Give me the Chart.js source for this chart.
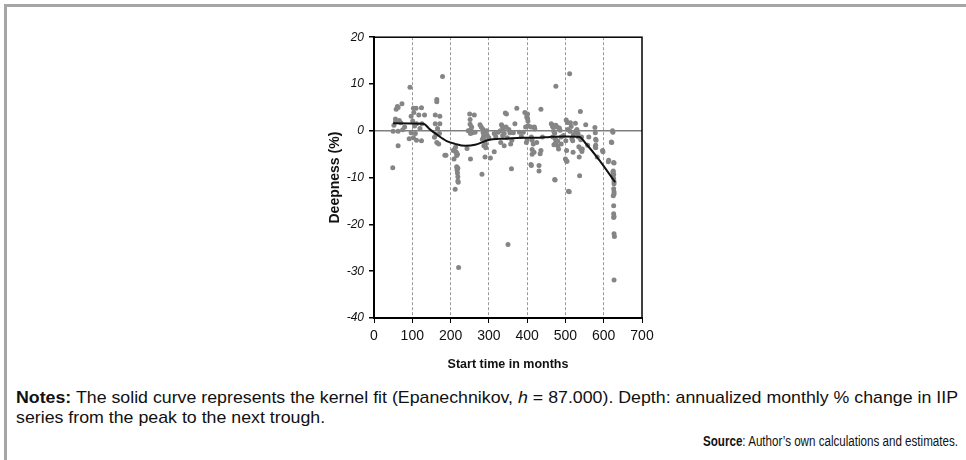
<!DOCTYPE html>
<html>
<head>
<meta charset="utf-8">
<script src="https://cdn.jsdelivr.net/npm/chart.js@4.4.0/dist/chart.umd.min.js"></script>
<style>
  body { margin: 0; background: #fff; width: 966px; height: 460px; overflow: hidden; position: relative;
         font-family: "Liberation Sans", Arial, sans-serif; color: #111; }
  #frame { position: absolute; left: 4px; top: 4px; right: 0; bottom: 0;
           border-top: 3px solid #a6a6a6; border-left: 3px solid #a6a6a6; }
  #wrap { position: absolute; left: 320px; top: 25px; width: 340px; height: 351px; }
  .line { position: absolute; white-space: nowrap; transform-origin: 0 50%;
          font-family: "Liberation Sans Narrow", "Liberation Sans", Arial, sans-serif; }
  #n1, #n2 { left: 16px; font-size: 17px; line-height: 19px; }
  #n1 { top: 388px; }
  #n2 { top: 408px; }
  #src { top: 433px; font-size: 14px; line-height: 16px; }
</style>
</head>
<body>
<div id="frame"></div>
<div id="wrap"><canvas id="deep-chart"></canvas></div>
<div class="line" id="n1"><b>Notes:</b> The solid curve represents the kernel fit (Epanechnikov, <i>h</i> = 87.000). Depth: annualized monthly % change in IIP</div>
<div class="line" id="n2">series from the peak to the next trough.</div>
<div class="line" id="src"><b>Source</b>: Author’s own calculations and estimates.</div>
<script>
// tick labels
const xTicks = [0, 100, 200, 300, 400, 500, 600, 700];
const yTicks = [-40, -30, -20, -10, 0, 10, 20];

// recessions: start month and deepness (%)
const startMonth = [
  49, 50, 52, 56, 56, 58, 61, 63, 63, 63, 66, 70, 73, 75, 80,
  92, 94, 97, 97, 101, 103, 103, 104, 106, 108, 110, 111, 111, 117, 120, 124, 124, 125, 132,
  158, 160, 160, 162, 164, 164, 164, 166, 169, 171, 172, 172, 179, 185, 188,
  207, 209, 210, 212, 213, 214, 215, 216, 216, 217, 217, 218, 218, 219, 219, 219, 220, 221,
  243, 246, 250, 251, 251, 252, 252, 252, 253, 255, 257, 262, 264,
  277, 280, 282, 283, 284, 285, 286, 287, 288, 289, 290, 290, 291, 292, 294, 296, 300,
  304, 314, 314, 318, 324, 330, 331, 333, 335, 336, 338, 340, 340, 343, 345, 346, 348, 350, 352, 355, 357, 359, 360, 364, 368, 373,
  380, 385, 390, 394, 396, 398, 399, 399, 400, 401, 401, 402, 402, 403, 410, 410, 411, 411, 413, 413, 413, 416, 418, 419, 420, 425, 431, 431, 434, 436, 436, 440,
  463, 466, 467, 467, 468, 470, 470, 470, 472, 472, 473, 474, 474, 475, 475, 478, 480, 480, 482, 484, 486, 489, 489, 495,
  500, 501, 502, 503, 503, 504, 505, 506, 508, 510, 511, 512, 513, 515, 517, 519, 520, 521, 526, 527, 530, 533, 534, 535, 536, 537, 539, 540, 540, 542, 543, 544,
  553, 558, 561, 577, 578, 578, 579, 579, 579, 580, 583, 597, 598,
  612, 613, 620, 621, 623, 624, 624, 625, 625, 625, 626, 626, 626, 626, 626, 626, 626, 627, 627, 627, 627, 627, 627, 627, 627, 628, 628
];
const deepness = [
  -7.9, -0.1, 1.2, 2.5, 1.9, 4.6, 5.2, 5.0, -0.1, -3.2, 2.2, 1.7, 5.8, 0.2, 0.8,
  -1.7, 9.3, 3.1, -0.4, 2.1, 4.8, -1.5, 3.9, 1.0, -0.6, 4.8, 1.5, -2.0, 3.4, 0.5, 4.9, -2.1, 1.5, 3.4,
  -1.4, 3.4, 1.5, -0.8, 6.7, 6.2, -2.5, 0.5, -2.8, -0.6, 3.1, 1.5, 11.6, -5.2, -5.2,
  -4.2, -6.0, -4.0, -12.5, -3.5, -4.6, -4.6, -5.3, -7.7, -7.9, -8.4, -5.0, -9.0, -8.0, -9.8, -10.7, -11.0, -29.2,
  -3.8, 0.0, 3.6, 2.4, 1.4, -0.3, -0.6, -6.0, 0.3, 0.8, -0.4, 3.4, -0.3,
  1.3, 0.8, -9.3, -1.8, 0.4, -0.4, -1.2, -3.2, -0.6, -2.0, -2.6, -5.6, -2.9, -3.6, 0.0, -1.0, -1.5,
  -5.8, -4.5, -0.6, -1.2, -0.3, 0.0, -2.5, 1.3, 1.0, -1.0, 0.5, -0.6, -3.2, 3.8, 0.8, 3.6, -1.5, -24.3, 0.3, -0.4, -2.8, -8.1, -2.0, -0.4, 1.5, 4.8,
  -0.3, -1.2, -0.3, 3.9, 0.8, -2.5, 3.5, 2.9, -1.9, 3.6, 2.7, 2.1, 1.0, 1.1, 0.8, -7.2, -1.3, -7.4, -2.0, -4.0, -5.0, -2.8, -4.6, 0.8, 0.4, -2.5, -7.4, -8.6, -4.9, -4.2, 4.6, -1.3,
  1.5, 1.0, 1.2, -1.3, 0.7, 1.0, -0.2, -3.0, -0.5, -10.4, -10.5, -1.8, -2.6, 9.5, 1.2, 0.8, -2.2, -3.2, -3.9, 0.6, 0.1, -1.3, -2.8, -1.0,
  -6.0, -2.1, 2.3, -4.2, -6.5, -6.5, 1.8, 0.3, -12.9, -13.0, 12.2, -0.1, 1.7, 0.9, -1.7, -2.1, -4.6, -0.8, 1.6, -0.1, 0.3, -0.6, -1.3, -3.4, -5.6, -9.6, 4.1, -1.9, -3.9, -1.3, -4.4, -3.9,
  1.3, -3.1, -1.3, 0.7, -0.4, -3.4, -1.8, -3.1, -3.6, -2.0, -5.6, -4.2, -4.5,
  -6.6, -6.3, -2.4, -2.5, 0.0, -0.3, -8.8, -8.6, -9.5, -13.9, -9.3, -10.2, -12.4, -16.0, -17.7, -18.5, -6.8, -10.9, -11.3, -13.1, -13.5, -18.3, -22.0, -31.9, -6.9, -22.6
];

// kernel fit (Epanechnikov, h = 87)
const fitMonth = [50, 129, 146, 164, 190, 212, 238, 264, 290, 310, 342, 386, 420, 460, 499, 537, 551, 586, 630];
const fitDeep  = [1.6, 1.5, 0.3, -0.8, -2.2, -2.8, -3.2, -3.0, -2.2, -1.8, -1.7, -1.5, -1.5, -1.3, -1.2, -1.3, -2.5, -6.0, -11.0];

const scatterPoints = startMonth.map((m, i) => ({ x: m, y: deepness[i] }));
const fitPoints = fitMonth.map((m, i) => ({ x: m, y: fitDeep[i] }));

// box around the plot (top and right edges)
const plotBox = {
  id: 'plotBox',
  afterDraw(chart) {
    const a = chart.chartArea, c = chart.ctx;
    c.save();
    c.strokeStyle = '#000';
    c.lineWidth = 1.5;
    c.strokeRect(a.left, a.top, a.right - a.left, a.bottom - a.top);
    c.restore();
  }
};

const ctx = document.getElementById('deep-chart').getContext('2d');
new Chart(ctx, {
  type: 'scatter',
  data: {
    datasets: [
      {
        type: 'line',
        data: fitPoints,
        borderColor: '#111',
        borderWidth: 2,
        pointRadius: 0,
        cubicInterpolationMode: 'monotone',
        order: 0
      },
      {
        data: scatterPoints,
        backgroundColor: '#858585',
        borderWidth: 0,
        pointRadius: 2.5,
        order: 1
      }
    ]
  },
  options: {
    responsive: true,
    maintainAspectRatio: false,
    animation: false,
    layout: { padding: { top: 8, right: 18, left: 0, bottom: 0 } },
    plugins: { legend: { display: false }, tooltip: { enabled: false } },
    scales: {
      x: {
        type: 'linear',
        min: 0, max: 700,
        afterBuildTicks: s => { s.ticks = xTicks.map(v => ({ value: v })); },
        afterFit: s => { s.height = 58; },
        ticks: { color: '#111', padding: 5, font: { family: 'Liberation Sans', size: 14 } },
        grid: {
          color: c => (c.tick && c.tick.value > 0 && c.tick.value < 700) ? '#9a9a9a' : 'transparent',
          lineWidth: 1,
          tickColor: '#000',
          tickLength: 5,
          tickBorderDash: []
        },
        border: { color: '#000', width: 2, dash: [3, 2] },
        title: {
          display: true, text: 'Start time in months', color: '#111',
          font: { family: 'Liberation Sans', size: 12.5, weight: 'bold' },
          padding: { top: 0, bottom: 4 }
        }
      },
      y: {
        type: 'linear',
        min: -40, max: 20,
        afterBuildTicks: s => { s.ticks = yTicks.map(v => ({ value: v })); },
        afterFit: s => { s.width = 54; },
        ticks: { color: '#111', padding: 5, font: { family: 'Liberation Sans', size: 12, style: 'italic' } },
        grid: {
          color: c => (c.tick && c.tick.value === 0) ? '#7f7f7f' : 'transparent',
          lineWidth: 1.5,
          tickColor: '#000',
          tickLength: 5
        },
        border: { color: '#000', width: 2 },
        title: {
          display: true, text: 'Deepness (%)', color: '#111',
          font: { family: 'Liberation Sans', size: 14, weight: 'bold' },
          padding: { top: 7, bottom: 0 }
        }
      }
    }
  },
  plugins: [plotBox]
});

// squeeze the note lines to the narrow look of the reference
const n1 = document.getElementById('n1');
const k = 942 / n1.getBoundingClientRect().width;
n1.style.transform = 'scaleX(' + k + ')';
document.getElementById('n2').style.transform = 'scaleX(' + k + ')';
const src = document.getElementById('src');
const sw = src.getBoundingClientRect().width;
const ks = 255 / sw;
src.style.left = (958 - sw * ks) + 'px';
src.style.transform = 'scaleX(' + ks + ')';
</script>
</body>
</html>
